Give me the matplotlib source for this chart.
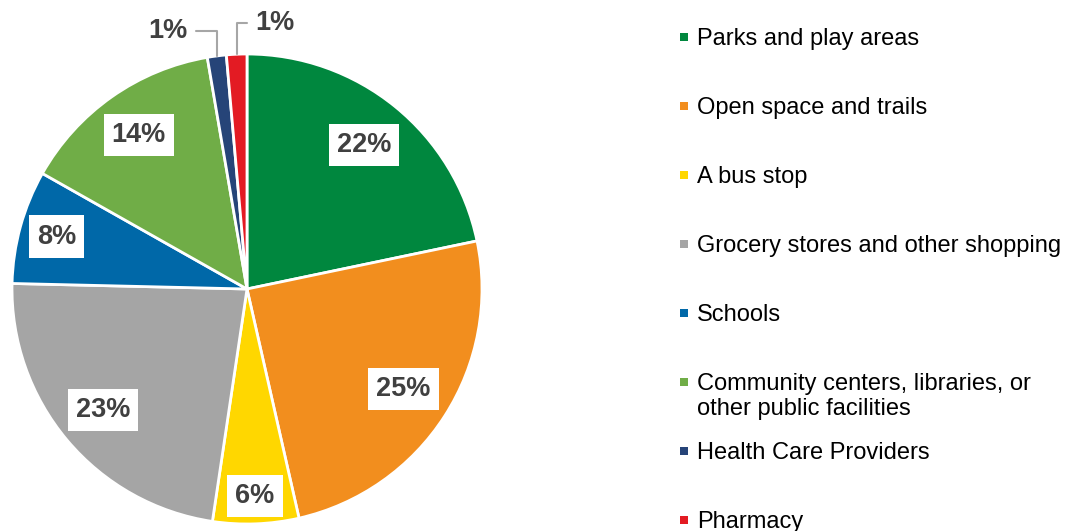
import numpy as np
import matplotlib
matplotlib.use("Agg")
import matplotlib.pyplot as plt

# datos
categories = ["Parks and play areas", "Open space and trails", "A bus stop",
              "Grocery stores and other shopping", "Schools",
              "Community centers, libraries, or\nother public facilities",
              "Health Care Providers", "Pharmacy"]
shares = [21.7, 24.7, 5.9, 23.0, 7.8, 14.1, 1.3, 1.4]
pct_labels = ["22%", "25%", "6%", "23%", "8%", "14%", "1%", "1%"]
colors = ["#00873E", "#F28E1E", "#FFD700", "#A5A5A5", "#0068A8",
          "#70AD47", "#264478", "#E31B23"]

# radio de cada etiqueta (las pequeñas van fuera)
label_r = [0.79, 0.79, 0.88, 0.80, 0.84, 0.80, None, None]

plt.rcParams["font.family"] = ["Liberation Sans", "DejaVu Sans"]

W, H = 1074, 531
fig = plt.figure(figsize=(W / 100, H / 100), dpi=100)

cx, cy, R = 247, 289, 235
ax = fig.add_axes([(cx - R) / W, (H - cy - R) / H, 2 * R / W, 2 * R / H])
wedges, _ = ax.pie(shares, colors=colors, startangle=90, counterclock=False,
                   radius=1.0, wedgeprops=dict(edgecolor="white", linewidth=2))
ax.set_xlim(-1, 1)
ax.set_ylim(-1, 1)
ax.set_aspect("equal")
ax.axis("off")

txt_col = "#404040"
for w, lab, r in zip(wedges, pct_labels, label_r):
    mid = np.deg2rad((w.theta1 + w.theta2) / 2)
    if r is None:
        continue
    ax.text(r * np.cos(mid), r * np.sin(mid), lab, ha="center", va="center",
            fontsize=19.5, fontweight="bold", color=txt_col,
            bbox=dict(boxstyle="square,pad=0.3", fc="white", ec="none"))

# etiquetas externas con líneas guía
ext = [(6, (-0.335, 1.10)), (7, (0.117, 1.133))]
for i, pos in ext:
    w = wedges[i]
    mid = np.deg2rad((w.theta1 + w.theta2) / 2)
    ax.annotate(pct_labels[i], xy=(np.cos(mid), np.sin(mid)), xytext=pos,
                ha="center", va="center", fontsize=19.5, fontweight="bold",
                color=txt_col, annotation_clip=False,
                arrowprops=dict(arrowstyle="-", color="#A6A6A6", lw=1.5,
                                shrinkA=4, shrinkB=0,
                                connectionstyle="angle,angleA=0,angleB=90,rad=0"))

# leyenda
for i, (cat, col) in enumerate(zip(categories, colors)):
    y = 37 + 69 * i
    fig.patches.append(plt.Rectangle((680 / W, (H - y - 4) / H), 8 / W, 8 / H,
                                     transform=fig.transFigure, fc=col, ec="none"))
    fig.text(697 / W, (H - y + 9) / H, cat, ha="left", va="top",
             fontsize=17, color="black", linespacing=1.2)

fig.savefig("out.png", dpi=100)
